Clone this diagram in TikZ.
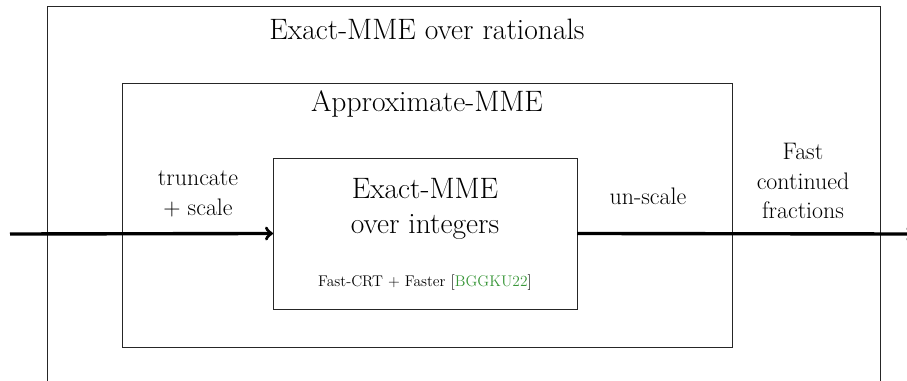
\documentclass[tikz,border=0pt]{standalone}
\usepackage{xcolor}
\usepackage{tikz}
\usetikzlibrary{calc}
\usetikzlibrary{arrows}
\definecolor{citegreen}{RGB}{56,150,56}
\tikzset{
  box/.style={draw=black!85, line width=.7pt, rectangle, inner sep=0, outer sep=0},
  bigtext/.style={font=\fontsize{21}{25}\selectfont, align=center},
  lbl/.style={font=\fontsize{17}{21}\selectfont, align=center},
  flow/.style={black, line width=2.4pt, ->}
}

\begin{document}
\begin{tikzpicture}
\clip (0,0) rectangle (22.675,9.525);
% the three nested boxes
\node[box, minimum width=20.825cm, minimum height=9.875cm] (rationals) at (11.5875,4.4375) {};
\node[box, minimum width=15.25cm, minimum height=6.6cm] (approx) at (10.675,4.15) {};
\node[box, minimum width=7.6cm, minimum height=3.775cm] (integers) at (10.625,3.6875) {};
% titles
\node[bigtext, anchor=base] (ratTitle) at (10.675,8.525) {Exact-MME over rationals};
\node[bigtext, anchor=base] (apxTitle) at (10.675,6.725) {Approximate-MME};
\node[bigtext] (intTitle) at (10.625,4.3) {Exact-MME\\over integers};
\node[font=\fontsize{11}{13}\selectfont, anchor=base] (intRef) at (10.625,2.35) {Fast-CRT + Faster [\textcolor{citegreen}{BGGKU22}]};
% step labels
\node[lbl] (truncLbl) at (4.95,4.675) {truncate\\+ scale};
\node[lbl, anchor=base] (unscaleLbl) at (16.2,4.4) {un-scale};
\node[lbl] (cfLbl) at (20.075,5.0) {Fast\\continued\\fractions};
% the flow through the boxes
\coordinate (input) at (0.25,3.675);
\coordinate (output) at (22.86,3.675);
\draw[flow] (input) -- (integers.west);
\draw[flow] (integers.east) -- (output);
\end{tikzpicture}
\end{document}
